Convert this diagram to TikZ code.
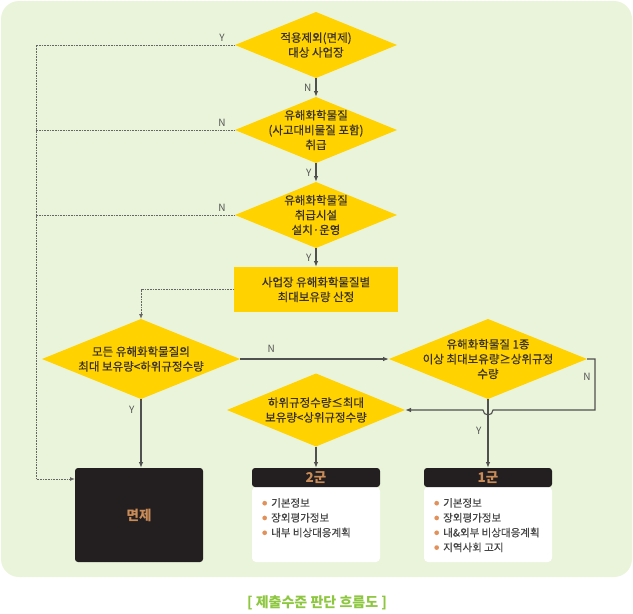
\documentclass[tikz,border=0pt]{standalone}
\usepackage{fontspec}
\setmainfont{Noto Sans CJK KR}
\newfontfamily\medfont[FakeBold=0.5]{Noto Sans CJK KR}
\newfontfamily\lstfont[FakeBold=0.25]{Noto Sans CJK KR}
\usetikzlibrary{shapes.geometric,arrows.meta,calc}
\definecolor{bg}{HTML}{EAF4DA}
\definecolor{yel}{HTML}{FFD200}
\definecolor{ink}{HTML}{3A3226}
\definecolor{lncol}{HTML}{505050}
\definecolor{dotcol}{HTML}{666666}
\definecolor{dark}{HTML}{231F20}
\definecolor{tanc}{HTML}{C98B57}
\definecolor{bul}{HTML}{E3915A}
\definecolor{capc}{HTML}{8DC63F}
\definecolor{lbl}{HTML}{555555}
\definecolor{listc}{HTML}{444444}
\tikzset{
  dia/.style n args={2}{diamond, fill=yel, draw=none, inner sep=0pt, outer sep=0pt, minimum width=#1, minimum height=#2},
  dtxt/.style={align=center, text=ink, font=\medfont\fontsize{11.5}{14.8}\selectfont, inner sep=0pt},
  arr/.style={draw=lncol, line width=1.1pt, -{Latex[length=6pt,width=4.5pt]}},
  dotl/.style={draw=dotcol, line width=1pt, dash pattern=on 1pt off 0.6pt},
  dotarr/.style={dotl, -{Latex[length=5pt,width=4pt,fill=lncol]}},
  yn/.style={text=lbl, font=\fontsize{10}{10}\selectfont, inner sep=0pt},
  darkbox/.style={fill=dark, rounded corners=3pt, inner sep=0pt, outer sep=0pt, text=tanc, font=\bfseries\fontsize{13.5}{13.5}\selectfont},
  bodybox/.style={fill=white, rounded corners=4pt, inner sep=0pt, outer sep=0pt, minimum width=128, minimum height=75},
  listtxt/.style={align=left, text=listc, font=\lstfont\fontsize{10.5}{14.8}\selectfont, inner sep=0pt, anchor=north west}
}
\newcommand{\bl}{\raisebox{1.8pt}{\color{bul}\fontsize{5}{5}\selectfont ●}\hspace{4pt}}
\begin{document}
\begin{tikzpicture}[x=1pt,y=-1pt]
\useasboundingbox (0,0) rectangle (633,614);
\fill[bg, rounded corners=18pt] (1,1) rectangle (632,577);

% decision chain
\node[dia={162}{66}] (d1) at (316,45) {};
\node[dtxt] (t1) at (d1) {적용제외(면제)\\대상 사업장};
\node[dia={162}{66}] (d2) at (316,130) {};
\node[dtxt] (t2) at (d2) {유해화학물질\\(사고대비물질 포함)\\취급};
\node[dia={162}{66}] (d3) at (316,215) {};
\node[dtxt] (t3) at (d3) {유해화학물질\\취급시설\\설치·운영};
\node[fill=yel, minimum width=164, minimum height=45, inner sep=0pt, outer sep=0pt] (r) at (316,289.5) {};
\node[dtxt] (tr) at (r) {사업장 유해화학물질별\\최대보유량 산정};

\node[dia={198}{80}] (d4) at (141,359) {};
\node[dtxt] (t4) at (d4) {모든 유해화학물질의\\최대 보유량<하위규정수량};
\node[dia={198}{80}] (d5) at (488,359) {};
\node[dtxt] (t5) at (d5) {유해화학물질 1종\\이상 최대보유량≥상위규정\\수량};
\node[dia={178}{73}] (d6) at (316,410) {};
\node[dtxt] (t6) at (d6) {하위규정수량≤최대\\보유량<상위규정수량};

% result boxes
\node[darkbox, minimum width=128, minimum height=94] (mz) at (139,515) {면제};

\node[bodybox] (b2) at (316,524.5) {};
\node[darkbox, minimum width=128, minimum height=19] (h2) at (316,477.5) {2군};
\node[listtxt] (l2) at ([xshift=10pt,yshift=-11pt]b2.north west) {\bl 기본정보\\\bl 장외평가정보\\\bl 내부 비상대응계획};

\node[bodybox] (b1) at (488,524.5) {};
\node[darkbox, minimum width=128, minimum height=19] (h1) at (488,477.5) {1군};
\node[listtxt] (l1) at ([xshift=10pt,yshift=-11pt]b1.north west) {\bl 기본정보\\\bl 장외평가정보\\\bl 내\&외부 비상대응계획\\\bl 지역사회 고지};

% caption
\node[text=capc, font=\bfseries\fontsize{14}{14}\selectfont, inner sep=0pt] (cap) at (317,603) {[ 제출수준 판단 흐름도 ]};

% main arrows
\draw[arr] (d1.south) -- (d2.north) node[yn, midway, left=4pt] {N};
\draw[arr] (d2.south) -- (d3.north) node[yn, midway, left=4pt] {Y};
\draw[arr] (d3.south) -- (r.north) node[yn, midway, left=4pt] {Y};

% left dotted bus
\coordinate (lx) at (36,45);
\coordinate (mzin) at ([yshift=-11pt]mz.north west);
\draw[dotarr] (d1.west) -- (lx |- d1.west) -- (lx |- mzin) -- (mzin);
\draw[dotl] (d2.west) -- (lx |- d2.west);
\draw[dotl] (d3.west) -- (lx |- d3.west);
\node[yn] (ly1) at ([xshift=-13pt,yshift=7pt]d1.west) {Y};
\node[yn] (ly2) at ([xshift=-13pt,yshift=7pt]d2.west) {N};
\node[yn] (ly3) at ([xshift=-13pt,yshift=7pt]d3.west) {N};

\draw[dotarr] (r.west) -| (d4.north);

\draw[arr] (d4.east) -- (d5.west) node[yn, pos=0.21, above=6pt] {N};
\draw[arr] (d4.south) -- (d4.south |- mz.north) node[yn, pos=0.16, left=6pt] {Y};
\draw[arr] (d6.south) -- (h2.north);
\draw[arr] (d5.south) -- (h1.north) node[yn, pos=0.46, left=6pt] {Y};

\coordinate (nr) at (595,359);
\draw[arr] (d5.east) -- (nr) -- (nr |- d6.east) -- ([xshift=5pt]d5.south |- d6.east) arc[start angle=0, end angle=-180, radius=5pt] -- (d6.east);
\node[yn] (ln) at (587,377) {N};
\end{tikzpicture}
\end{document}
